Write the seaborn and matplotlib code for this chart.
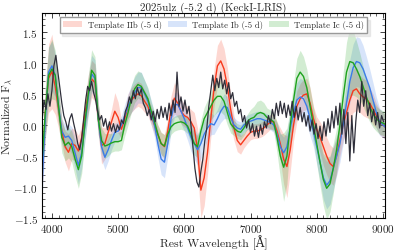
import numpy as np
import seaborn as sns
import matplotlib.pyplot as plt
from matplotlib.ticker import MultipleLocator

# Template wavelength grid, 3850-9050 A in 50 A steps
wave_tpl = list(range(3850, 9051, 50))

# Template IIb (-5 d)
flux_iib = [-0.80, 0.20, 0.75, 0.86, 0.62, 0.25, -0.10, -0.35, -0.44, -0.30,
            -0.33, -0.42, -0.20, 0.20, 0.50, 0.74, 0.68, 0.10, -0.33, -0.30,
            -0.12, 0.05, 0.22, 0.12, -0.07, 0.10, 0.30, 0.40, 0.46, 0.50,
            0.47, 0.38, 0.30, 0.15, 0.00, -0.15, -0.30, -0.35, -0.10, 0.25,
            0.43, 0.35, 0.22, 0.15, 0.12, 0.05, -0.05, -0.40, -1.05, -0.85,
            -0.45, 0.10, 0.60, 0.95, 1.03, 0.90, 0.62, 0.25, -0.05, -0.25,
            -0.32, -0.25, -0.18, -0.12, -0.10, -0.10, -0.08, -0.05, 0.00, 0.05,
            0.05, -0.10, -0.30, -0.55, -0.67, -0.40, 0.00, 0.30, 0.42, 0.48,
            0.50, 0.35, 0.10, -0.07, -0.20, -0.35, -0.50, -0.62, -0.67, -0.50,
            -0.25, 0.00, 0.20, 0.40, 0.55, 0.58, 0.50, 0.45, 0.42, 0.35,
            0.25, 0.15, 0.05, 0.00, -0.05]
err_iib = [0.30, 0.40, 0.55, 0.60, 0.45, 0.30, 0.20, 0.25, 0.30, 0.25,
           0.25, 0.25, 0.20, 0.25, 0.30, 0.30, 0.30, 0.25, 0.30, 0.25,
           0.15, 0.20, 0.30, 0.25, 0.15, 0.15, 0.20, 0.20, 0.20, 0.20,
           0.20, 0.18, 0.15, 0.15, 0.15, 0.15, 0.18, 0.20, 0.20, 0.22,
           0.25, 0.22, 0.20, 0.18, 0.18, 0.20, 0.25, 0.35, 0.45, 0.45,
           0.35, 0.30, 0.30, 0.33, 0.35, 0.33, 0.30, 0.25, 0.20, 0.18,
           0.15, 0.12, 0.12, 0.12, 0.12, 0.12, 0.12, 0.12, 0.12, 0.12,
           0.12, 0.15, 0.25, 0.40, 0.50, 0.35, 0.25, 0.25, 0.25, 0.25,
           0.25, 0.25, 0.20, 0.20, 0.25, 0.30, 0.30, 0.30, 0.30, 0.30,
           0.25, 0.25, 0.30, 0.35, 0.35, 0.35, 0.30, 0.30, 0.30, 0.25,
           0.25, 0.20, 0.20, 0.20, 0.20]

# Template Ib (-5 d)
flux_ib = [-1.00, 0.10, 0.85, 0.95, 0.80, 0.30, -0.10, -0.20, -0.18, -0.25,
           -0.45, -0.65, -0.45, 0.00, 0.45, 0.82, 0.75, 0.10, -0.35, -0.52,
           -0.40, -0.25, -0.12, -0.10, 0.00, 0.15, 0.30, 0.42, 0.52, 0.60,
           0.60, 0.50, 0.38, 0.20, 0.00, -0.30, -0.55, -0.60, -0.30, 0.10,
           0.32, 0.33, 0.22, 0.10, -0.05, -0.20, -0.30, -0.40, -0.30, -0.15,
           -0.05, 0.02, 0.00, 0.10, 0.22, 0.30, 0.28, 0.12, 0.00, -0.05,
           -0.07, 0.00, 0.04, 0.06, 0.08, 0.10, 0.10, 0.08, 0.06, 0.04,
           0.00, -0.15, -0.35, -0.45, -0.35, -0.05, 0.20, 0.40, 0.45, 0.42,
           0.30, 0.10, -0.10, -0.35, -0.60, -0.85, -0.97, -0.90, -0.70, -0.50,
           -0.30, 0.00, 0.35, 0.70, 0.92, 1.02, 1.00, 0.90, 0.75, 0.60,
           0.40, 0.20, 0.05, 0.00, -0.05]
err_ib = [0.25, 0.35, 0.40, 0.40, 0.35, 0.25, 0.20, 0.20, 0.20, 0.22,
          0.25, 0.30, 0.25, 0.25, 0.30, 0.30, 0.30, 0.25, 0.20, 0.20,
          0.18, 0.15, 0.15, 0.15, 0.15, 0.18, 0.20, 0.22, 0.25, 0.25,
          0.25, 0.22, 0.20, 0.20, 0.20, 0.22, 0.25, 0.25, 0.22, 0.20,
          0.20, 0.20, 0.20, 0.20, 0.20, 0.22, 0.25, 0.25, 0.25, 0.22,
          0.20, 0.18, 0.15, 0.15, 0.18, 0.20, 0.18, 0.15, 0.12, 0.12,
          0.12, 0.12, 0.12, 0.12, 0.12, 0.12, 0.12, 0.12, 0.12, 0.12,
          0.12, 0.18, 0.22, 0.25, 0.25, 0.25, 0.25, 0.28, 0.30, 0.30,
          0.30, 0.28, 0.25, 0.28, 0.30, 0.35, 0.38, 0.38, 0.35, 0.32,
          0.30, 0.30, 0.32, 0.35, 0.38, 0.40, 0.40, 0.38, 0.35, 0.30,
          0.28, 0.25, 0.22, 0.20, 0.20]

# Template Ic (-5 d)
flux_ic = [-0.60, 0.20, 0.80, 0.90, 0.80, 0.30, -0.20, -0.33, -0.28, -0.35,
           -0.55, -0.72, -0.50, 0.05, 0.50, 0.88, 0.80, 0.10, -0.25, -0.34,
           -0.32, -0.29, -0.27, -0.27, -0.25, 0.00, 0.20, 0.42, 0.58, 0.65,
           0.62, 0.52, 0.42, 0.22, 0.05, -0.15, -0.30, -0.34, -0.15, -0.03,
           0.02, 0.04, 0.05, 0.03, -0.02, -0.15, -0.30, -0.35, -0.10, 0.10,
           0.20, 0.30, 0.40, 0.46, 0.46, 0.38, 0.20, 0.02, -0.05, -0.10,
           -0.12, -0.05, 0.05, 0.10, 0.12, 0.18, 0.20, 0.18, 0.12, 0.09,
           0.05, -0.20, -0.50, -0.68, -0.50, 0.00, 0.40, 0.75, 0.85, 0.78,
           0.60, 0.30, 0.00, -0.30, -0.60, -0.88, -1.02, -0.95, -0.70, -0.40,
           0.00, 0.45, 0.85, 1.02, 1.00, 0.90, 0.78, 0.62, 0.45, 0.30,
           0.18, 0.10, 0.05, 0.03, 0.00]
err_ic = [0.30, 0.40, 0.45, 0.48, 0.40, 0.30, 0.25, 0.25, 0.25, 0.25,
          0.28, 0.30, 0.28, 0.28, 0.30, 0.33, 0.30, 0.25, 0.20, 0.20,
          0.18, 0.15, 0.15, 0.15, 0.15, 0.18, 0.20, 0.22, 0.22, 0.22,
          0.22, 0.20, 0.18, 0.15, 0.15, 0.15, 0.18, 0.18, 0.15, 0.12,
          0.12, 0.12, 0.12, 0.12, 0.12, 0.15, 0.18, 0.18, 0.18, 0.18,
          0.20, 0.22, 0.25, 0.25, 0.25, 0.22, 0.20, 0.15, 0.12, 0.12,
          0.12, 0.12, 0.12, 0.15, 0.18, 0.20, 0.20, 0.18, 0.15, 0.15,
          0.15, 0.25, 0.35, 0.55, 0.45, 0.25, 0.28, 0.32, 0.35, 0.32,
          0.30, 0.28, 0.28, 0.32, 0.38, 0.42, 0.50, 0.45, 0.40, 0.35,
          0.35, 0.40, 0.48, 0.55, 0.52, 0.45, 0.38, 0.32, 0.28, 0.25,
          0.22, 0.20, 0.20, 0.20, 0.20]

# Observed spectrum of 2025ulz, 3850-9010 A in 30 A steps
wave_obs = list(range(3850, 9011, 30))
flux_obs = [0.05, 0.40, 0.25, 0.50, 0.30, 0.55, 0.95, 1.12, 0.85, 0.60,
            0.35, 0.15, 0.05, -0.08, 0.10, 0.18, 0.02, -0.12, -0.30, -0.40,
            -0.22, 0.10, 0.40, 0.62, 0.55, 0.70, 0.52, 0.40, 0.22, 0.08,
            0.15, -0.02, 0.10, -0.08, 0.05, -0.10, 0.02, -0.12, 0.00, -0.08,
            0.08, 0.02, 0.22, 0.30, 0.45, 0.35, 0.55, 0.42, 0.60, 0.48,
            0.58, 0.35, 0.28, 0.15, 0.25, 0.08, 0.22, 0.05, 0.25, 0.10,
            0.30, 0.12, 0.28, 0.08, 0.35, 0.15, 0.40, 0.20, 0.85, 0.30,
            0.45, 0.22, 0.40, 0.18, 0.30, 0.00, -0.35, -0.70, -0.92, -1.00,
            -0.75, -0.55, -0.25, -0.05, 0.30, 0.55, 0.80, 0.55, 0.75, 0.60,
            0.85, 0.58, 0.72, 0.50, 0.68, 0.42, 0.52, 0.30, 0.38, 0.18,
            0.25, 0.05, 0.15, -0.05, 0.08, -0.12, 0.02, -0.18, -0.02, -0.20,
            0.00, -0.15, 0.05, -0.05, 0.15, 0.02, 0.25, 0.10, 0.35, 0.15,
            0.38, 0.18, 0.35, 0.12, 0.32, 0.15, 0.38, 0.12, 0.30, 0.08,
            0.28, 0.05, 0.20, -0.02, 0.15, -0.10, 0.08, -0.15, 0.02, -0.22,
            -0.02, -0.25, 0.05, -0.18, 0.10, -0.12, 0.22, -0.05, 0.30, 0.00,
            0.35, -0.15, 0.25, -0.30, 0.20, -0.58, 0.15, -0.45, 0.05, 0.40,
            0.20, 0.70, 0.30, 0.55, 0.15, 0.35, 0.05, 0.25, 0.00, 0.20,
            -0.05, 0.15, 0.05]

sns.set_style('ticks')
plt.rcParams['font.family'] = ['cmr10', 'DejaVu Serif']
plt.rcParams['mathtext.fontset'] = 'cm'
plt.rcParams['axes.formatter.use_mathtext'] = True
plt.rcParams['xtick.direction'] = 'in'
plt.rcParams['ytick.direction'] = 'in'

fig = plt.figure(figsize=(3.96, 2.51), dpi=100)
ax = fig.add_axes([0.106, 0.127, 0.866, 0.817])

templates = [
    ('IIb', flux_iib, err_iib, '#f8391c'),
    ('Ib', flux_ib, err_ib, '#3b7be8'),
    ('Ic', flux_ic, err_ic, '#1ea31e'),
]
for name, flux, err, col in templates:
    flux = np.array(flux)
    err = np.array(err)
    ax.fill_between(wave_tpl, flux - err, flux + err, color=col, alpha=0.2,
                    lw=0, label=f'Template {name} (-5 d)')
    sns.lineplot(x=wave_tpl, y=flux, color=col, lw=1.0, ax=ax)

sns.lineplot(x=wave_obs, y=flux_obs, color='#2f2f3a', lw=0.9, ax=ax)

ax.set_xlim(3850, 9030)
ax.set_ylim(-1.5, 1.8)
ax.xaxis.set_major_locator(MultipleLocator(1000))
ax.xaxis.set_minor_locator(MultipleLocator(100))
ax.yaxis.set_major_locator(MultipleLocator(0.5))
ax.yaxis.set_minor_locator(MultipleLocator(0.1))
ax.tick_params(which='both', direction='in', top=True, right=True, labelsize=8)
ax.tick_params(which='major', length=3.5, width=0.6, pad=3)
ax.tick_params(which='minor', length=2, width=0.5)
for s in ax.spines.values():
    s.set_linewidth(0.8)
    s.set_color('black')

ax.set_xlabel('Rest Wavelength [Å]', fontsize=8.5)
ax.set_ylabel(r'Normalized F$_\lambda$', fontsize=8.5)
ax.xaxis.set_label_coords(0.5, -0.08)
ax.yaxis.set_label_coords(-0.085, 0.5)
ax.set_title('2025ulz (-5.2 d) (KeckI-LRIS)', fontsize=8, pad=2)

ax.legend(loc='upper center', ncol=3, fontsize=6.2, frameon=True, fancybox=False,
          shadow={'color': '0.85'}, edgecolor='0.6', framealpha=1,
          handlelength=2.25, handletextpad=0.6, columnspacing=0.7,
          borderaxespad=0.45, borderpad=0.4)

fig.savefig('out.png', dpi=100)
